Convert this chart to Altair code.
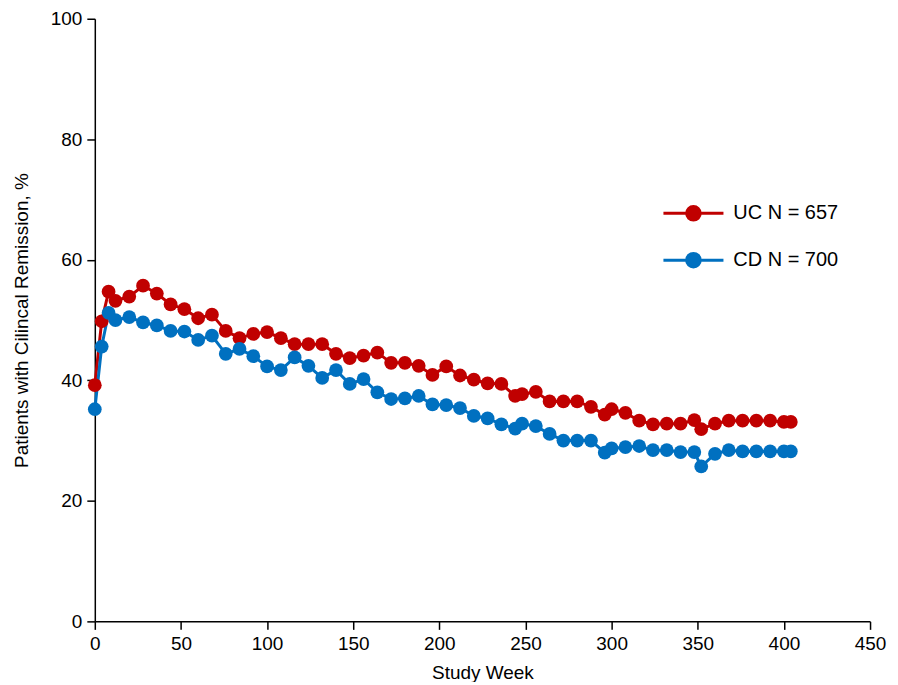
import altair as alt
import pandas as pd

weeks = [0, 4, 8, 12, 20, 28, 36, 44, 52, 60, 68, 76, 84, 92, 100, 108, 116, 124,
         132, 140, 148, 156, 164, 172, 180, 188, 196, 204, 212, 220, 228, 236, 244,
         248, 256, 264, 272, 280, 288, 296, 300, 308, 316, 324, 332, 340, 348, 352,
         360, 368, 376, 384, 392, 400, 404]

uc = [39.2, 49.8, 54.7, 53.2, 53.9, 55.7, 54.4, 52.6, 51.8, 50.3, 50.9, 48.2, 47.0,
      47.7, 48.0, 47.0, 46.0, 46.0, 46.0, 44.4, 43.7, 44.1, 44.6, 42.9, 42.9, 42.4,
      40.9, 42.3, 40.8, 40.1, 39.5, 39.4, 37.4, 37.7, 38.1, 36.5, 36.5, 36.5, 35.6,
      34.3, 35.2, 34.6, 33.3, 32.7, 32.8, 32.8, 33.4, 31.9, 32.8, 33.3, 33.3, 33.3,
      33.3, 33.1, 33.1]

cd = [35.2, 45.6, 51.2, 50.0, 50.5, 49.6, 49.1, 48.2, 48.1, 46.7, 47.4, 44.4, 45.2,
      44.0, 42.3, 41.7, 43.8, 42.4, 40.4, 41.7, 39.4, 40.2, 38.0, 36.9, 37.0, 37.4,
      36.0, 35.9, 35.4, 34.1, 33.7, 32.7, 32.0, 32.8, 32.4, 31.1, 30.0, 30.0, 30.0,
      28.0, 28.7, 28.9, 29.1, 28.4, 28.4, 28.1, 28.1, 25.7, 27.8, 28.4, 28.2, 28.2,
      28.2, 28.2, 28.2]

series_names = ["UC N = 657", "CD N = 700"]
series_colors = ["#C00000", "#0070C0"]

x_ticks = [0, 50, 100, 150, 200, 250, 300, 350, 400, 450]
y_ticks = [0, 20, 40, 60, 80, 100]

df = pd.DataFrame({
    "week": weeks + weeks,
    "value": uc + cd,
    "series": [series_names[0]] * len(weeks) + [series_names[1]] * len(weeks),
})

FONT = "Liberation Sans"

# legend symbol: a line with a filled dot (concentric rings)
rings = ""
for r in [0.05, 0.11, 0.17, 0.23, 0.29]:
    rings += f" M{-r},0A{r},{r} 0 1,0 {r},0A{r},{r} 0 1,0 {-r},0"
legend_path = "M-1.28,0L1.28,0" + rings

color_scale = alt.Scale(domain=series_names, range=series_colors)

x_enc = alt.X("week:Q", scale=alt.Scale(domain=[0, 450]),
              axis=alt.Axis(values=x_ticks, title="Study Week", titleY=51,
                            titleBaseline="middle", labelFlush=False))
y_enc = alt.Y("value:Q", scale=alt.Scale(domain=[0, 100]),
              axis=alt.Axis(values=y_ticks, title="Patients with Cilincal Remission, %",
                            titleX=-73, titleY=302, titleAngle=-90,
                            titleAlign="center", titleBaseline="middle",
                            labelFlush=False))

lines = alt.Chart(df).mark_line(strokeWidth=3).encode(
    x=x_enc, y=y_enc,
    color=alt.Color("series:N", scale=color_scale, sort=series_names,
                    legend=alt.Legend(title=None, orient="none", legendX=575, legendY=170,
                                      symbolType=legend_path, symbolSize=2209,
                                      symbolStrokeWidth=3, labelFontSize=20,
                                      labelFont=FONT, labelColor="black",
                                      labelOffset=15, rowPadding=9)),
    detail="series:N",
)

points = alt.Chart(df).mark_circle(size=190, opacity=1).encode(
    x=x_enc, y=y_enc,
    color=alt.Color("series:N", scale=color_scale, legend=None),
)

chart = alt.layer(lines, points).properties(
    width=777, height=604,
    autosize=alt.AutoSizeParams(type="none"),
    padding={"left": 87, "top": 10, "right": 20, "bottom": 60},
).configure_view(stroke=None).configure_axis(
    grid=False, domainColor="black", domainWidth=1.5, tickColor="black",
    tickWidth=1.5, tickSize=8, labelFont=FONT, labelFontSize=19,
    labelColor="black", labelPadding=5, titleFont=FONT, titleFontSize=19,
    titleColor="black", titleFontWeight="normal"
)

chart.save("out.html", embed_options={"renderer": "svg", "actions": False})
